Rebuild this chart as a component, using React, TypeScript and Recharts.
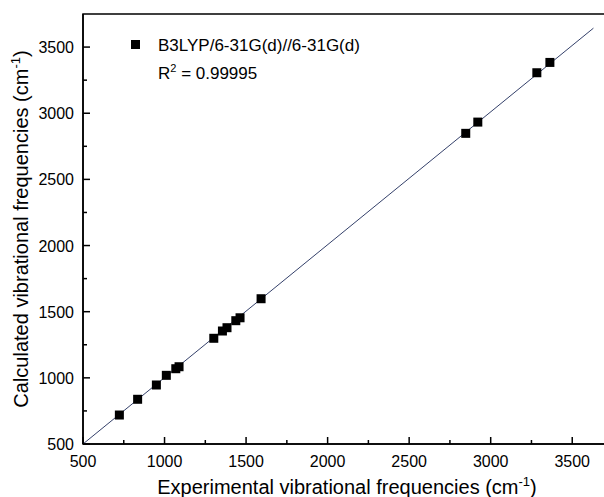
import { ReferenceArea, Scatter, ScatterChart, XAxis, YAxis } from "recharts";

// experimental vs calculated frequencies, cm-1
const expFreq = [723, 835, 950, 1011, 1069, 1089, 1302, 1355, 1383, 1437, 1463, 1592, 2847, 2921, 3283, 3363];
const calcFreq = [719, 838, 946, 1019, 1069, 1084, 1299, 1354, 1379, 1432, 1454, 1598, 2848, 2933, 3306, 3384];

// linear fit endpoints
const fitX = [500, 3630];
const fitY = [500, 3643];

const axisTicks = [500, 750, 1000, 1250, 1500, 1750, 2000, 2250, 2500, 2750, 3000, 3250, 3500];
const AXIS_MIN = 500;
const AXIS_MAX = 3750;

const FONT = "Arial, 'Liberation Sans', sans-serif";
const LINE_COLOR = "#34406a";

const points = expFreq.map((x, i) => ({ x, y: calcFreq[i] }));
const fitLine = fitX.map((x, i) => ({ x, y: fitY[i] }));

function XTick(props: any) {
  const { x, y, payload } = props;
  const major = payload.value % 500 === 0;
  return (
    <g>
      <line x1={x} x2={x} y1={y} y2={y - (major ? 7 : 4)} stroke="#000" strokeWidth={1.5} />
      {major && (
        <text x={x} y={y + 23} textAnchor="middle" fontSize={16} fontFamily={FONT} fill="#000">
          {payload.value}
        </text>
      )}
    </g>
  );
}

function YTick(props: any) {
  const { x, y, payload } = props;
  const major = payload.value % 500 === 0;
  return (
    <g>
      <line x1={x} x2={x + (major ? 7 : 4)} y1={y} y2={y} stroke="#000" strokeWidth={1.5} />
      {major && (
        <text x={x - 9} y={y + 6} textAnchor="end" fontSize={16} fontFamily={FONT} fill="#000">
          {payload.value}
        </text>
      )}
    </g>
  );
}

function SquareDot(props: any) {
  const { cx, cy } = props;
  if (cx == null || cy == null) return <g />;
  return <rect x={cx - 4.5} y={cy - 4.5} width={9} height={9} fill="#000" />;
}

export default function App() {
  return (
    <div
      style={{
        position: "absolute",
        left: 0,
        top: 0,
        width: 604,
        height: 497,
        overflow: "hidden",
        background: "#fff",
      }}
    >
      <ScatterChart
        width={620}
        height={497}
        margin={{ top: 14, right: 7, left: 0, bottom: 0 }}
      >
        <XAxis
          type="number"
          dataKey="x"
          domain={[AXIS_MIN, AXIS_MAX]}
          ticks={axisTicks}
          interval={0}
          allowDataOverflow
          height={53}
          tickSize={0}
          tickMargin={0}
          tickLine={false}
          axisLine={{ stroke: "#000", strokeWidth: 1.5 }}
          tick={<XTick />}
        />
        <YAxis
          type="number"
          dataKey="y"
          domain={[AXIS_MIN, AXIS_MAX]}
          ticks={axisTicks}
          interval={0}
          allowDataOverflow
          width={83}
          tickSize={0}
          tickMargin={0}
          tickLine={false}
          axisLine={{ stroke: "#000", strokeWidth: 1.5 }}
          tick={<YTick />}
        />
        <ReferenceArea
          x1={AXIS_MIN}
          x2={AXIS_MAX}
          y1={AXIS_MIN}
          y2={AXIS_MAX}
          fill="none"
          fillOpacity={0}
          stroke="#000"
          strokeWidth={1.5}
        />
        <Scatter
          data={fitLine}
          line={{ stroke: LINE_COLOR, strokeWidth: 1 }}
          shape={() => <g />}
          isAnimationActive={false}
        />
        <Scatter data={points} shape={<SquareDot />} isAnimationActive={false} />
      </ScatterChart>

      {/* axis titles */}
      <svg
        width={604}
        height={497}
        style={{ position: "absolute", left: 0, top: 0, pointerEvents: "none" }}
      >
        <text x={347} y={494} textAnchor="middle" fontSize={20} fontFamily={FONT} fill="#000">
          Experimental vibrational frequencies (cm
          <tspan fontSize={13} dy={-8}>-1</tspan>
          <tspan dy={8}>)</tspan>
        </text>
        <text
          transform="translate(28, 229) rotate(-90)"
          textAnchor="middle"
          fontSize={20}
          fontFamily={FONT}
          fill="#000"
        >
          Calculated vibrational frequencies  (cm
          <tspan fontSize={13} dy={-8}>-1</tspan>
          <tspan dy={8}>)</tspan>
        </text>

        {/* legend */}
        <rect x={131} y={40} width={9} height={9} fill="#000" />
        <text x={158} y={51} fontSize={17} fontFamily={FONT} fill="#000">
          B3LYP/6-31G(d)//6-31G(d)
        </text>
        <text x={158} y={79} fontSize={17} fontFamily={FONT} fill="#000">
          R
          <tspan fontSize={11} dy={-7}>2</tspan>
          <tspan dy={7}> = 0.99995</tspan>
        </text>
      </svg>
    </div>
  );
}
